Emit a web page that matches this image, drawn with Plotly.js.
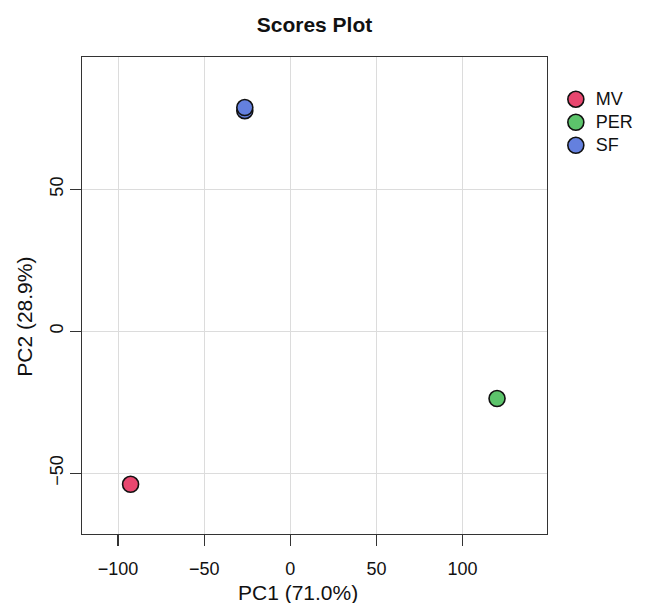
<!DOCTYPE html>
<html>
<head>
<meta charset="utf-8">
<script src="https://cdn.plot.ly/plotly-3.0.1.min.js"></script>
<style>html,body{margin:0;padding:0;background:#fff;}</style>
</head>
<body>
<div id="chart" style="width:651px;height:603px;"></div>
<script>
// Data
const groups = ["MV", "PER", "SF"];
const groupColors = ["#E8476F", "#5CC46B", "#6480DE"];
const pc1 = {
  MV: [-92.7],
  PER: [120.0],
  SF: [-26.4, -26.4]
};
const pc2 = {
  MV: [-53.9],
  PER: [-23.7],
  SF: [77.7, 78.8]
};
const xTicks = [-100, -50, 0, 50, 100];
const yTicks = [-50, 0, 50];
const xTickText = ["\u2212100", "\u221250", "0", "50", "100"];
const yTickText = ["\u221250", "0", "50"];

const font = "Liberation Sans, Arial, sans-serif";

const traces = groups.map((g, i) => ({
  type: "scatter",
  mode: "markers",
  name: '<span style="font-size:18px">' + g + '</span>',
  x: pc1[g],
  y: pc2[g],
  marker: {
    color: groupColors[i],
    size: 16,
    line: {color: "#111111", width: 1.6}
  },
  cliponaxis: false
}));

const layout = {
  width: 651,
  height: 603,
  margin: {l: 82, r: 90, t: 57, b: 69},
  paper_bgcolor: "#ffffff",
  plot_bgcolor: "#ffffff",
  font: {family: font, color: "#111111"},
  showlegend: true,
  title: {
    text: "<b>Scores Plot</b>",
    font: {family: font, size: 21, color: "#111111"},
    x: 0.5, xref: "paper", xanchor: "center",
    y: 1 - 25 / 603, yref: "container", yanchor: "middle"
  },
  xaxis: {
    range: [-120.9, 149.0],
    tickmode: "array",
    tickvals: xTicks,
    ticktext: xTickText,
    ticks: "outside",
    ticklen: 11,
    tickwidth: 1.3,
    tickcolor: "#333333",
    tickfont: {family: font, size: 18, color: "#111111"},
    ticklabelstandoff: 7,
    showgrid: true,
    gridcolor: "#dcdcdc",
    gridwidth: 1,
    zeroline: false,
    showline: true,
    linecolor: "#333333",
    linewidth: 1.3,
    mirror: true
  },
  yaxis: {
    range: [-71.4, 96.6],
    tickmode: "array",
    tickvals: yTicks,
    ticktext: yTickText,
    tickangle: -90,
    ticks: "outside",
    ticklen: 11,
    tickwidth: 1.3,
    tickcolor: "#333333",
    tickfont: {family: font, size: 18, color: "#111111"},
    showgrid: true,
    gridcolor: "#dcdcdc",
    gridwidth: 1,
    zeroline: false,
    showline: true,
    linecolor: "#333333",
    linewidth: 1.3,
    mirror: true
  },
  legend: {
    x: 1.019, xanchor: "left",
    y: 0.946, yanchor: "top",
    font: {family: font, size: 15.4, color: "#111111"},
    bgcolor: "rgba(0,0,0,0)",
    borderwidth: 0,
    tracegroupgap: 0,
    itemclick: false
  },
  annotations: [
    {
      text: "PC1 (71.0%)",
      xref: "paper", yref: "paper",
      x: (304 - 82) / 479, y: (534 - 592) / 477,
      xanchor: "center", yanchor: "middle",
      showarrow: false,
      font: {family: font, size: 21, color: "#111111"}
    },
    {
      text: "PC2 (28.9%)",
      xref: "paper", yref: "paper",
      x: (22 - 82) / 479, y: (534 - 317) / 477,
      xanchor: "center", yanchor: "middle",
      textangle: -90,
      showarrow: false,
      font: {family: font, size: 21, color: "#111111"}
    }
  ]
};

Plotly.newPlot("chart", traces, layout, {displayModeBar: false, staticPlot: true});
</script>
</body>
</html>
